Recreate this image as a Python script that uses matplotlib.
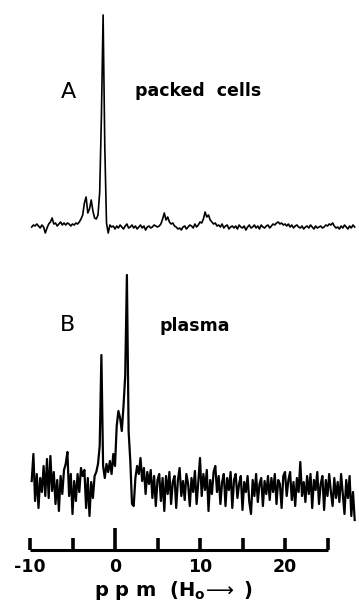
import numpy as np
import matplotlib
matplotlib.use("Agg")
import matplotlib.pyplot as plt

# ---------------- data ----------------
ppm = np.round(np.arange(-9.8, 28.21, 0.2), 1)   # 191 sample positions

spec_A = [
    0, 2, 1, 3, 1, -1, 2, 0, -6, -1,            # -9.8 .. -8.0
    3, 5, 9, 3, 4, 1, 3, 5, 2, 4,               # -7.8 .. -6.0
    2, 4, 3, 1, 3, 2, 4, 3, 5, 8,               # -5.8 .. -4.0
    12, 24, 30, 14, 18, 27, 16, 9, 8, 12,       # -3.8 .. -2.0
    35, 110, 212, 80, 4, -6, 2, 0, 1, -2,       # -1.8 .. 0.0
    1, -1, 2, 0, -2, 1, 3, -1, 0, 2,            # 0.2 .. 2.0
    -1, 1, -2, 0, 2, -1, 1, -3, 0, 1,           # 2.2 .. 4.0
    -1, 0, 2, 1, 0, 1, 3, 8, 14, 7,             # 4.2 .. 6.0
    10, 5, 3, 4, 1, 0, -2, -1, -3, 0,           # 6.2 .. 8.0
    1, -2, 0, 2, 1, -1, 3, 0, 2, 5,             # 8.2 .. 10.0
    4, 8, 15, 10, 12, 7, 5, 3, 4, 1,            # 10.2 .. 12.0
    2, 0, 3, -1, 1, 2, -2, 0, 1, -1,            # 12.2 .. 14.0
    1, -2, 2, 0, -1, 1, -3, 0, 2, -1,           # 14.2 .. 16.0
    0, 2, -1, 1, -2, 2, 0, -1, 1, 2,            # 16.2 .. 18.0
    -1, 1, 3, 2, 4, 5, 3, 4, 2, 3,              # 18.2 .. 20.0
    1, 3, 0, 2, -1, 1, 2, 0, -1, 1,             # 20.2 .. 22.0
    -2, 0, 1, -1, 2, 0, -2, 1, -1, 0,           # 22.2 .. 24.0
    1, -1, 0, 2, 1, 3, 2, 4, 1, -1,             # 24.2 .. 26.0
    0, -2, 1, -1, 2, 0, -2, 1, -1, 2,           # 26.2 .. 28.0
    0,                                          # 28.2
]

spec_B = [
    5, 32, -15, 12, -22, 8, -6, 20, -10, 27,
    -12, 30, -5, 14, -18, 6, -25, 10, -8, 16,
    22, 34, -10, 12, -28, 5, -15, 12, -6, 18,
    10, 16, -22, 8, -30, 4, -12, 10, 14, 22,
    40, 131, 20, 8, 22, 14, 25, 12, 32, 20,
    60, 75, 68, 55, 80, 110, 211, 55, 25, -18,
    -20, 8, 20, 12, 28, 5, 18, -8, 14, 2,
    16, -12, 10, -20, 6, 12, -15, 8, -25, 10,
    -8, 14, -18, 4, 10, -22, 6, 18, -10, 5,
    -14, 12, 2, -20, 8, -6, 15, -18, 4, 28,
    -10, 12, -4, 16, -25, 6, -8, 14, 20, -6,
    10, -18, 4, 12, -20, 8, -4, 14, -22, 6,
    12, -12, 2, 10, -24, 4, -6, 10, -16, -28,
    6, -10, 12, -16, 2, 8, -20, 5, -8, 10,
    -14, 8, -6, 12, -18, 6, 2, -22, 10, 14,
    -10, 6, 14, -14, 4, -20, 8, -6, 24, -10,
    4, -16, 10, -8, 12, -22, 6, -4, 14, -18,
    2, 10, -24, 6, -10, 12, -6, -20, 8, -12,
    4, -16, 12, -8, -28, 6, -12, 10, -30, -6,
    -34,
]

panel_labels = ["A", "B"]
sample_names = ["packed  cells", "plasma"]
tick_values = [-10, -5, 0, 5, 10, 15, 20, 25]
tick_labels = ["-10", "", "0", "", "10", "", "20", ""]
xlabel = r"p p m  (H$_{\mathbf{o}}$$\!\longrightarrow$ )"

# ---------------- layout ----------------
W, H = 359, 602
fig = plt.figure(figsize=(W / 100, H / 100), dpi=100)
plt.rcParams["mathtext.fontset"] = "dejavusans"

PX_PER_PPM = 8.5
X0 = 115.0  # pixel of 0 ppm
xlim = (-X0 / PX_PER_PPM, (W - X0) / PX_PER_PPM)


def axes_px(top, bottom):
    return fig.add_axes([0, (H - bottom) / H, 1, (bottom - top) / H])


def clean(ax):
    for s in ax.spines.values():
        s.set_visible(False)
    ax.set_xticks([])
    ax.set_yticks([])
    ax.patch.set_alpha(0)


# spectrum A: baseline at y=227 px
axA = axes_px(0, 260)
axA.plot(ppm, spec_A, color="black", lw=1.2)
axA.set_xlim(*xlim)
axA.set_ylim(227 - 260, 227)
clean(axA)

# spectrum B: baseline at y=486 px
axB = axes_px(240, 530)
axB.plot(ppm, spec_B, color="black", lw=1.6)
axB.set_xlim(*xlim)
axB.set_ylim(486 - 530, 486 - 240)
clean(axB)

# scale bar
axS = axes_px(520, 550)
axS.set_xlim(*xlim)
for k in ["left", "right", "top"]:
    axS.spines[k].set_visible(False)
axS.spines["bottom"].set_bounds(tick_values[0], tick_values[-1])
axS.spines["bottom"].set_linewidth(2.2)
axS.spines["bottom"].set_capstyle("butt")
axS.set_yticks([])
axS.set_xticks(tick_values)
axS.set_xticklabels(tick_labels, fontsize=12.5, fontweight="bold")
axS.tick_params(axis="x", direction="in", length=9, width=2.6, pad=6)
axS.xaxis.get_major_ticks()[tick_values.index(0)].tick1line.set_markersize(16)
axS.patch.set_alpha(0)

fig.text(174 / W, 1 - 596 / H, xlabel, fontsize=14, fontweight="bold",
         ha="center", va="baseline")

# panel texts
fig.text(68 / W, 1 - 92 / H, panel_labels[0], fontsize=16, ha="center", va="center")
fig.text(198 / W, 1 - 91 / H, sample_names[0], fontsize=12.5, fontweight="bold",
         ha="center", va="center")
fig.text(68 / W, 1 - 325 / H, panel_labels[1], fontsize=16, ha="center", va="center")
fig.text(195 / W, 1 - 326 / H, sample_names[1], fontsize=12.5, fontweight="bold",
         ha="center", va="center")

fig.savefig("out.png", dpi=100)
